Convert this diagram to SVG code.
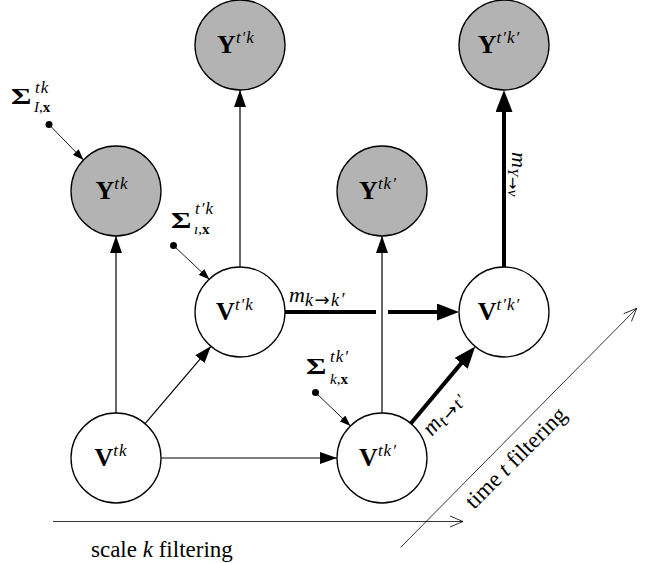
<svg xmlns="http://www.w3.org/2000/svg" width="653" height="563" viewBox="0 0 653 563">
<style>
text{font-family:"Liberation Serif","Times New Roman",serif;fill:#000}
.node{stroke:#000;stroke-width:1.3}
.obs{fill:#b3b3b3}
.lat{fill:#fff}
.nl{font-size:26px}
.b{font-weight:bold}
.sig{font-weight:bold;font-size:24px}
.sup{font-size:17px;font-style:italic;font-weight:normal;letter-spacing:1px}
.sub{font-size:15px;font-style:italic;letter-spacing:0.5px}
.esub{font-size:18px;font-style:italic;letter-spacing:1.5px}
.arr{font-family:"DejaVu Sans",sans-serif;font-style:normal}
.it{font-style:italic}
.thin{stroke:#000;stroke-width:1.2;fill:none;marker-end:url(#ah)}
.thick{stroke:#000;stroke-width:4;fill:none}
.thickA{marker-end:url(#ahT)}
.sg{stroke:#000;stroke-width:0.9;fill:none;marker-end:url(#ahS)}
.axis{stroke:#000;stroke-width:0.8;fill:none;marker-end:url(#ahO)}
</style>
<defs>
<marker id="ah" markerUnits="userSpaceOnUse" markerWidth="17" markerHeight="12" refX="17" refY="6" orient="auto"><path d="M0,0 L17,6 L0,12 z" fill="#000"/></marker>
<marker id="ahT" markerUnits="userSpaceOnUse" markerWidth="22" markerHeight="17" refX="16" refY="8.5" orient="auto"><path d="M0,0 L22,8.5 L0,17 z" fill="#000"/></marker>
<marker id="ahS" markerUnits="userSpaceOnUse" markerWidth="11" markerHeight="8" refX="11" refY="4" orient="auto"><path d="M0,0 L11,4 L0,8 z" fill="#000"/></marker>
<marker id="ahO" markerUnits="userSpaceOnUse" markerWidth="14" markerHeight="12" refX="13" refY="5.5" orient="auto" overflow="visible"><path d="M0,0 L13,5.5 L0,11" fill="none" stroke="#000" stroke-width="0.8"/></marker>
</defs>

<g id="connectors">
<path class="thin" d="M116,413 L116,236"/>
<path class="thin" d="M145.1,423.7 L210.9,346.3"/>
<path class="thin" d="M161,458 L337,458"/>
<path class="thin" d="M240,267 L240,90"/>
<path class="thin" d="M382,413 L382,236"/>
<path class="thick" d="M285,312 L376,312"/>
<path class="thick thickA" d="M388,312 L453,312"/>
<path class="thick thickA" d="M410.8,423.5 L471.4,351.1"/>
<path class="thick thickA" d="M504,267 L504,96"/>
<circle cx="49" cy="124.5" r="3.5"/>
<path class="sg" d="M49,124.5 L83.5,160"/>
<circle cx="173.5" cy="245.5" r="3.5"/>
<path class="sg" d="M173.5,245.5 L209.5,279.5"/>
<circle cx="315.5" cy="392.5" r="3.5"/>
<path class="sg" d="M315.5,392.5 L350.5,426"/>
<text x="289" y="302" font-size="22"><tspan class="it">m</tspan><tspan class="esub" dy="4">k<tspan class="arr">→</tspan>k′</tspan></text>
<text transform="translate(432,437) rotate(-50)" font-size="23"><tspan class="it">m</tspan><tspan class="esub" dy="4">t<tspan class="arr">→</tspan>t′</tspan></text>
<text transform="translate(512,152) rotate(90)" font-size="22"><tspan class="it">m</tspan><tspan class="sub" font-size="16" dy="4">Y<tspan class="arr">→</tspan>v</tspan></text>
</g>

<g id="Ytk"><circle class="node obs" cx="116" cy="191" r="45"/><text class="nl" x="112" y="199" text-anchor="middle"><tspan class="b">Y</tspan><tspan class="sup" dy="-10">tk</tspan></text></g>
<g id="Ytpk"><circle class="node obs" cx="240" cy="45" r="45"/><text class="nl" x="236" y="53" text-anchor="middle"><tspan class="b">Y</tspan><tspan class="sup" dy="-10">t′k</tspan></text></g>
<g id="Ytkp"><circle class="node obs" cx="382" cy="191" r="45"/><text class="nl" x="378" y="199" text-anchor="middle"><tspan class="b">Y</tspan><tspan class="sup" dy="-10">tk′</tspan></text></g>
<g id="Ytpkp"><circle class="node obs" cx="504" cy="45" r="45"/><text class="nl" x="499" y="53" text-anchor="middle"><tspan class="b">Y</tspan><tspan class="sup" dy="-10">t′k′</tspan></text></g>
<g id="Vtk"><circle class="node lat" cx="116" cy="458" r="45"/><text class="nl" x="111" y="466" text-anchor="middle"><tspan class="b">V</tspan><tspan class="sup" dy="-10">tk</tspan></text></g>
<g id="Vtpk"><circle class="node lat" cx="240" cy="312" r="45"/><text class="nl" x="235" y="320" text-anchor="middle"><tspan class="b">V</tspan><tspan class="sup" dy="-10">t′k</tspan></text></g>
<g id="Vtkp"><circle class="node lat" cx="382" cy="458" r="45"/><text class="nl" x="378" y="466" text-anchor="middle"><tspan class="b">V</tspan><tspan class="sup" dy="-10">tk′</tspan></text></g>
<g id="Vtpkp"><circle class="node lat" cx="504" cy="312" r="45"/><text class="nl" x="499" y="320" text-anchor="middle"><tspan class="b">V</tspan><tspan class="sup" dy="-10">t′k′</tspan></text></g>

<g id="sigma1">
<text class="sig" transform="translate(11,104) scale(1.3,1)">Σ</text>
<text class="sup" x="35" y="93">tk</text>
<text x="34" y="112" font-size="15"><tspan class="it">I</tspan>,<tspan class="b">x</tspan></text>
</g>
<g id="sigma2">
<text class="sig" transform="translate(171,228) scale(1.3,1)">Σ</text>
<text class="sup" x="195" y="214">t′k</text>
<text x="194" y="234" font-size="15"><tspan class="it">ı</tspan>,<tspan class="b">x</tspan></text>
</g>
<g id="sigma3">
<text class="sig" transform="translate(306,374) scale(1.3,1)">Σ</text>
<text class="sup" x="330" y="362">tk′</text>
<text x="330" y="384" font-size="15"><tspan class="it">k</tspan>,<tspan class="b">x</tspan></text>
</g>

<g id="axes">
<path class="axis" d="M53,521.5 L463,521.5"/>
<path class="axis" d="M400.7,547.3 L636.7,308.3"/>
<text x="91" y="557" font-size="23">scale <tspan class="it">k</tspan> filtering</text>
<text transform="translate(474,510) rotate(-45)" font-size="23">time <tspan class="it">t</tspan> filtering</text>
</g>
</svg>
